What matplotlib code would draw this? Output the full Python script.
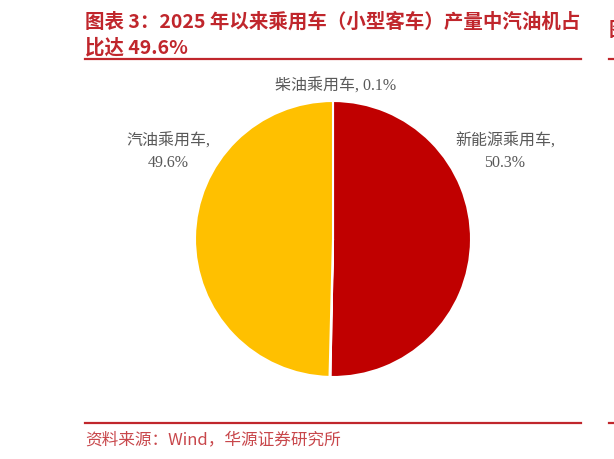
import matplotlib
matplotlib.use("Agg")
import matplotlib.pyplot as plt
from matplotlib.lines import Line2D

plt.rcParams['font.family'] = ['Noto Sans CJK SC', 'DejaVu Sans']

# data
categories = ["新能源乘用车", "柴油乘用车", "汽油乘用车"]
shares = [50.3, 0.1, 49.6]
colors = ["#C00000", "#A5A5A5", "#FFC000"]

title = "图表 3：2025 年以来乘用车（小型客车）产量中汽油机占\n比达 49.6%"
source = "资料来源：Wind，华源证券研究所"

W, H = 614, 460
fig = plt.figure(figsize=(W / 100, H / 100), dpi=100)

def px(x, y):
    # pixel coords (top-left origin) -> figure fraction
    return x / W, 1 - y / H

red = "#C0262C"
label_col = "#595959"
label_font = ['Liberation Serif', 'Noto Sans CJK SC']

# title and rules
fig.text(*px(85, 35), title, color=red, fontsize=14, fontweight='bold',
         va='center', ha='left', linespacing=1.35)
for yy in (60, 424):
    fig.add_artist(Line2D([85 / W, 581 / W], [1 - yy / H] * 2, color=red, lw=1.6))
    fig.add_artist(Line2D([609 / W, 1.0], [1 - yy / H] * 2, color=red, lw=1.6))
fig.text(*px(609, 30), "图", color=red, fontsize=14, fontweight='bold', va='center', ha='left')
fig.text(*px(85, 440), source, color="#C8474B", fontsize=12, va='center', ha='left')

# pie
cx, cy, r = 333, 240, 138
ax = fig.add_axes([(cx - r) / W, (H - cy - r) / H, 2 * r / W, 2 * r / H])
ax.pie(shares, colors=colors, startangle=90, counterclock=False,
       wedgeprops=dict(edgecolor='white', linewidth=1.5))
ax.set_xlim(-1, 1)
ax.set_ylim(-1, 1)
ax.set_aspect('auto')
ax.axis('off')

# labels
fig.text(*px(336, 86), f"{categories[1]}, {shares[1]}%", color=label_col,
         fontsize=11.5, ha='center', va='center', family=label_font)
fig.text(*px(168, 152), f"{categories[2]},\n{shares[2]}%", color=label_col,
         fontsize=11.5, ha='center', va='center', family=label_font, linespacing=1.45)
fig.text(*px(505, 152), f"{categories[0]},\n{shares[0]}%", color=label_col,
         fontsize=11.5, ha='center', va='center', family=label_font, linespacing=1.45)

fig.savefig("out.png", dpi=100)
